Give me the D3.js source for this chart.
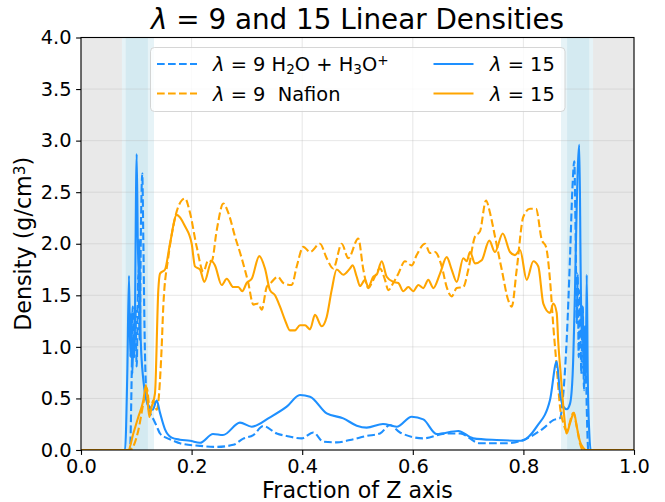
<!DOCTYPE html>
<html>
<head>
<meta charset="utf-8">
<script src="https://cdn.jsdelivr.net/npm/d3@7"></script>
<style>
  html, body { margin: 0; padding: 0; background: #fff; }
  svg { display: block; font-family: "DejaVu Sans", sans-serif; }
</style>
</head>
<body>
<svg id="chart" width="665" height="502"></svg>
<script>
// Linear density profiles along the membrane normal, [fraction of Z, density g/cm^3]
const water9 = [[0,0],[0.0886,0],[0.0917,0.74],[0.0935,1.39],[0.0958,0.90],[0.0982,1.39],[0.1007,0.81],[0.1036,1.71],[0.1061,1.07],[0.1085,2.2],[0.1108,2.68],[0.1127,2.04],[0.1152,1.07],[0.1188,0.50],[0.1248,0.36],[0.1307,0.30],[0.1369,0.23],[0.1429,0.16],[0.1537,0.12],[0.1669,0.09],[0.1790,0.065],[0.2152,0.04],[0.2454,0.03],[0.2754,0.05],[0.2935,0.11],[0.3116,0.145],[0.3297,0.233],[0.3539,0.16],[0.3720,0.136],[0.3991,0.113],[0.4201,0.17],[0.4382,0.08],[0.4624,0.074],[0.4864,0.097],[0.5166,0.136],[0.5407,0.16],[0.5588,0.243],[0.5769,0.17],[0.6190,0.113],[0.6613,0.16],[0.6854,0.16],[0.7215,0.065],[0.7698,0.065],[0.7998,0.097],[0.8360,0.21],[0.8541,0.29],[0.8662,0.31],[0.8722,0.55],[0.8783,1.07],[0.8843,1.87],[0.8885,2.52],[0.8920,2.80],[0.8945,2.04],[0.8964,1.23],[0.8982,1.71],[0.9000,0.90],[0.9024,1.55],[0.9047,0.74],[0.9073,1.39],[0.9096,0.58],[0.9119,1.2],[0.9145,0.42],[0.9174,0],[1,0]];

const nafion9 = [[0,0],[0.0886,0],[0.1036,0.19],[0.1127,0.45],[0.1188,0.6],[0.1248,0.39],[0.1307,0.48],[0.1369,0.39],[0.1459,1.0],[0.1488,1.39],[0.1579,1.87],[0.1669,2.17],[0.1759,2.36],[0.1881,2.44],[0.1971,2.30],[0.2092,1.97],[0.2212,1.73],[0.2302,1.84],[0.2363,1.83],[0.2454,2.13],[0.2573,2.39],[0.2664,2.30],[0.2785,2.07],[0.2906,1.86],[0.3025,1.62],[0.3116,1.41],[0.3206,1.42],[0.3268,1.36],[0.3358,1.58],[0.3448,1.63],[0.3557,1.68],[0.3658,1.62],[0.3810,1.60],[0.3901,1.78],[0.4020,1.97],[0.4141,1.92],[0.4322,2.0],[0.4443,1.86],[0.4562,1.76],[0.4714,2.0],[0.4834,1.86],[0.5014,2.05],[0.5105,1.75],[0.5195,1.57],[0.5286,1.65],[0.5407,1.76],[0.5497,1.65],[0.5557,1.55],[0.5647,1.62],[0.5738,1.71],[0.5859,1.83],[0.5980,1.79],[0.6070,1.89],[0.6221,2.0],[0.6311,1.91],[0.6401,1.92],[0.6523,1.78],[0.6613,1.58],[0.6703,1.49],[0.6794,1.57],[0.6913,1.58],[0.7004,1.75],[0.7125,2.07],[0.7215,2.12],[0.7324,2.42],[0.7396,2.30],[0.7486,2.07],[0.7608,1.75],[0.7727,1.45],[0.7789,1.39],[0.7879,1.75],[0.7998,2.26],[0.8119,2.34],[0.8228,2.34],[0.8331,2.04],[0.8409,1.97],[0.8481,1.65],[0.8541,1.20],[0.8602,0.81],[0.8662,0.42],[0.8722,0.26],[0.8783,0.19],[0.8903,0.36],[0.8964,0.23],[0.9024,0.06],[0.9078,0],[1,0]];

const water15 = [[0,0],[0.0796,0],[0.0837,0.74],[0.0868,1.69],[0.0892,0.90],[0.0910,1.33],[0.0928,0.74],[0.0946,1.07],[0.0964,0.90],[0.1007,2.87],[0.1036,1.71],[0.1054,2.04],[0.1080,1.07],[0.1127,0.68],[0.1175,0.50],[0.1235,0.42],[0.1297,0.39],[0.1369,0.48],[0.1429,0.36],[0.1519,0.20],[0.1640,0.12],[0.1790,0.10],[0.1971,0.09],[0.2152,0.07],[0.2387,0.155],[0.2568,0.145],[0.2875,0.265],[0.3087,0.226],[0.3418,0.317],[0.3720,0.42],[0.3960,0.533],[0.4141,0.517],[0.4443,0.355],[0.4743,0.307],[0.4986,0.236],[0.5166,0.217],[0.5461,0.252],[0.5709,0.226],[0.5980,0.323],[0.6190,0.297],[0.6432,0.155],[0.6823,0.184],[0.7094,0.113],[0.7517,0.097],[0.7969,0.09],[0.8241,0.226],[0.8481,0.485],[0.8602,0.857],[0.8662,0.55],[0.8722,0.42],[0.8783,0.395],[0.8843,0.45],[0.8891,0.74],[0.8933,1.55],[0.8964,2.36],[0.9011,2.96],[0.9036,1.71],[0.9054,1.07],[0.9073,1.39],[0.9090,0.74],[0.9108,1.2],[0.9127,0.68],[0.9145,1.70],[0.9163,0.74],[0.9192,0.16],[0.9217,0],[1,0]];

const nafion15 = [[0,0],[0.0855,0],[0.0946,0.16],[0.1036,0.32],[0.1127,0.48],[0.1175,0.63],[0.1235,0.32],[0.1278,0.42],[0.1338,0.55],[0.1398,1.55],[0.1429,1.71],[0.1519,1.75],[0.1609,2.0],[0.1731,2.28],[0.1881,2.17],[0.2002,2.0],[0.2061,1.78],[0.2152,1.75],[0.2230,1.63],[0.2363,1.83],[0.2423,1.79],[0.2544,1.6],[0.2635,1.66],[0.2754,1.58],[0.2845,1.58],[0.2917,1.54],[0.2996,1.62],[0.3087,1.66],[0.3224,1.88],[0.3327,1.76],[0.3418,1.55],[0.3508,1.50],[0.3599,1.39],[0.3689,1.26],[0.3779,1.16],[0.3870,1.16],[0.3960,1.21],[0.4051,1.21],[0.4141,1.17],[0.4231,1.31],[0.4353,1.20],[0.4443,1.29],[0.4533,1.55],[0.4624,1.75],[0.4743,1.70],[0.4864,1.76],[0.4913,1.79],[0.4986,1.68],[0.5045,1.59],[0.5136,1.65],[0.5195,1.58],[0.5286,1.68],[0.5347,1.70],[0.5438,1.83],[0.5528,1.68],[0.5647,1.63],[0.5738,1.62],[0.5828,1.54],[0.5919,1.58],[0.6009,1.54],[0.6100,1.60],[0.6190,1.57],[0.6280,1.65],[0.6371,1.57],[0.6492,1.71],[0.6613,1.87],[0.6703,1.75],[0.6794,1.63],[0.6913,1.86],[0.6975,1.83],[0.7034,1.92],[0.7125,1.81],[0.7246,1.84],[0.7383,2.03],[0.7486,1.92],[0.7626,2.10],[0.7758,1.92],[0.7848,1.89],[0.7939,1.94],[0.8060,1.65],[0.8179,1.83],[0.8270,1.78],[0.8360,1.42],[0.8481,1.33],[0.8541,1.42],[0.8602,1.33],[0.8630,1.05],[0.8680,0.70],[0.8722,0.42],[0.8783,0.16],[0.8843,0.26],[0.8915,0.36],[0.8964,0.23],[0.9024,0.08],[0.9083,0.02],[0.9132,0],[1,0]];

// Shaded regions along Z
const vacuumBands = [[0, 0.074], [0.926, 1]];
const interfaceBands = [[0.074, 0.121], [0.081, 0.132], [0.868, 0.919], [0.879, 0.926]];

const xTicks = [0, 0.2, 0.4, 0.6, 0.8, 1.0];
const yTicks = [0, 0.5, 1.0, 1.5, 2.0, 2.5, 3.0, 3.5, 4.0];

const BLUE = "#1e90ff", ORANGE = "#ffa500";
const series = [
  { data: water9,   color: BLUE,   dashed: true  },
  { data: nafion9,  color: ORANGE, dashed: true  },
  { data: water15,  color: BLUE,   dashed: false },
  { data: nafion15, color: ORANGE, dashed: false }
];

const svg = d3.select("#chart");
const L = 81, R = 634, T = 37.5, B = 450;
const x = d3.scaleLinear().domain([0, 1]).range([L, R]);
const y = d3.scaleLinear().domain([0, 4]).range([B, T]);

svg.append("defs").append("clipPath").attr("id", "plotClip")
  .append("rect").attr("x", L).attr("y", T).attr("width", R - L).attr("height", B - T);

// Background bands
svg.append("g").selectAll("rect").data(vacuumBands).join("rect")
  .attr("x", d => x(d[0])).attr("width", d => x(d[1]) - x(d[0]))
  .attr("y", T).attr("height", B - T)
  .attr("fill", "#d3d3d3").attr("fill-opacity", 0.5);
svg.append("g").selectAll("rect").data(interfaceBands).join("rect")
  .attr("x", d => x(d[0])).attr("width", d => x(d[1]) - x(d[0]))
  .attr("y", T).attr("height", B - T)
  .attr("fill", "#add8e6").attr("fill-opacity", 0.3);

// Grid
const grid = svg.append("g").attr("stroke", "#b0b0b0").attr("stroke-opacity", 0.3).attr("stroke-width", 1);
grid.selectAll(".gx").data(xTicks).join("line")
  .attr("x1", d => x(d)).attr("x2", d => x(d)).attr("y1", T).attr("y2", B);
grid.selectAll(".gy").data(yTicks).join("line")
  .attr("x1", L).attr("x2", R).attr("y1", d => y(d)).attr("y2", d => y(d));

// Profiles
const line = d3.line().x(d => x(d[0])).y(d => y(d[1])).curve(d3.curveMonotoneX);
svg.append("g").attr("clip-path", "url(#plotClip)")
  .selectAll("path").data(series).join("path")
  .attr("d", d => line(d.data))
  .attr("fill", "none")
  .attr("stroke", d => d.color)
  .attr("stroke-width", 2.1)
  .attr("stroke-linejoin", "round")
  .attr("stroke-dasharray", d => d.dashed ? "7.7,3.3" : null);

// Axes
const fmt = d3.format(".1f");
const xAxis = svg.append("g").attr("transform", `translate(0,${B})`)
  .call(d3.axisBottom(x).tickValues(xTicks).tickFormat(fmt).tickSize(4.9).tickSizeOuter(0).tickPadding(4.5));
const yAxis = svg.append("g").attr("transform", `translate(${L},0)`)
  .call(d3.axisLeft(y).tickValues(yTicks).tickFormat(fmt).tickSize(4.9).tickSizeOuter(0).tickPadding(4.5));
[xAxis, yAxis].forEach(g => {
  g.select(".domain").remove();
  g.selectAll("line").attr("stroke", "#000").attr("stroke-width", 1.1);
  g.selectAll("text").attr("fill", "#000").style("font-size", "19.4px").style("font-family", "DejaVu Sans");
});

// Spines
svg.append("rect").attr("x", L).attr("y", T).attr("width", R - L).attr("height", B - T)
  .attr("fill", "none").attr("stroke", "#000").attr("stroke-width", 1.1);

// Title
const title = svg.append("text").attr("x", (L + R) / 2).attr("y", 29)
  .attr("text-anchor", "middle").style("font-size", "27.8px");
title.append("tspan").attr("font-style", "italic").text("λ");
title.append("tspan").text(" = 9 and 15 Linear Densities");

// Axis labels
svg.append("text").attr("x", (L + R) / 2).attr("y", 498)
  .attr("text-anchor", "middle").style("font-size", "22.2px").text("Fraction of Z axis");
const yl = svg.append("text").attr("transform", `translate(31,${(T + B) / 2}) rotate(-90)`)
  .attr("text-anchor", "middle").style("font-size", "22.2px");
yl.append("tspan").text("Density (g/cm");
yl.append("tspan").attr("baseline-shift", "38%").style("font-size", "15.5px").text("3");
yl.append("tspan").text(")");

// Legend
const lg = svg.append("g");
lg.append("rect").attr("x", 150.5).attr("y", 47.5).attr("width", 414.5).attr("height", 64)
  .attr("rx", 4).attr("fill", "#fff").attr("fill-opacity", 0.8)
  .attr("stroke", "#cccccc").attr("stroke-opacity", 0.8);

const legendItems = [
  { s: series[0], col: 0, row: 0, parts: [["λ","i"],[" = 9 H"],["2","sub"],["O + H"],["3","sub"],["O"],["+","sup"]] },
  { s: series[1], col: 0, row: 1, parts: [["λ","i"],[" = 9  Nafion"]] },
  { s: series[2], col: 1, row: 0, parts: [["λ","i"],[" = 15"]] },
  { s: series[3], col: 1, row: 1, parts: [["λ","i"],[" = 15"]] }
];
const colHandle = [157, 433.5], colText = [213, 490], rowY = [64, 93.5];
legendItems.forEach(it => {
  const yy = rowY[it.row];
  lg.append("line")
    .attr("x1", colHandle[it.col]).attr("x2", colHandle[it.col] + 40)
    .attr("y1", yy).attr("y2", yy)
    .attr("stroke", it.s.color).attr("stroke-width", 2.1)
    .attr("stroke-dasharray", it.s.dashed ? "7.7,3.3" : null);
  const t = lg.append("text").attr("x", colText[it.col]).attr("y", yy + 7)
    .style("font-size", "19.4px").style("white-space", "pre");
  it.parts.forEach(([txt, kind]) => {
    const sp = t.append("tspan").text(txt);
    if (kind === "i") sp.attr("font-style", "italic");
    if (kind === "sub") sp.attr("baseline-shift", "-22%").style("font-size", "13.6px");
    if (kind === "sup") sp.attr("baseline-shift", "42%").style("font-size", "13.6px");
  });
});
</script>
</body>
</html>
